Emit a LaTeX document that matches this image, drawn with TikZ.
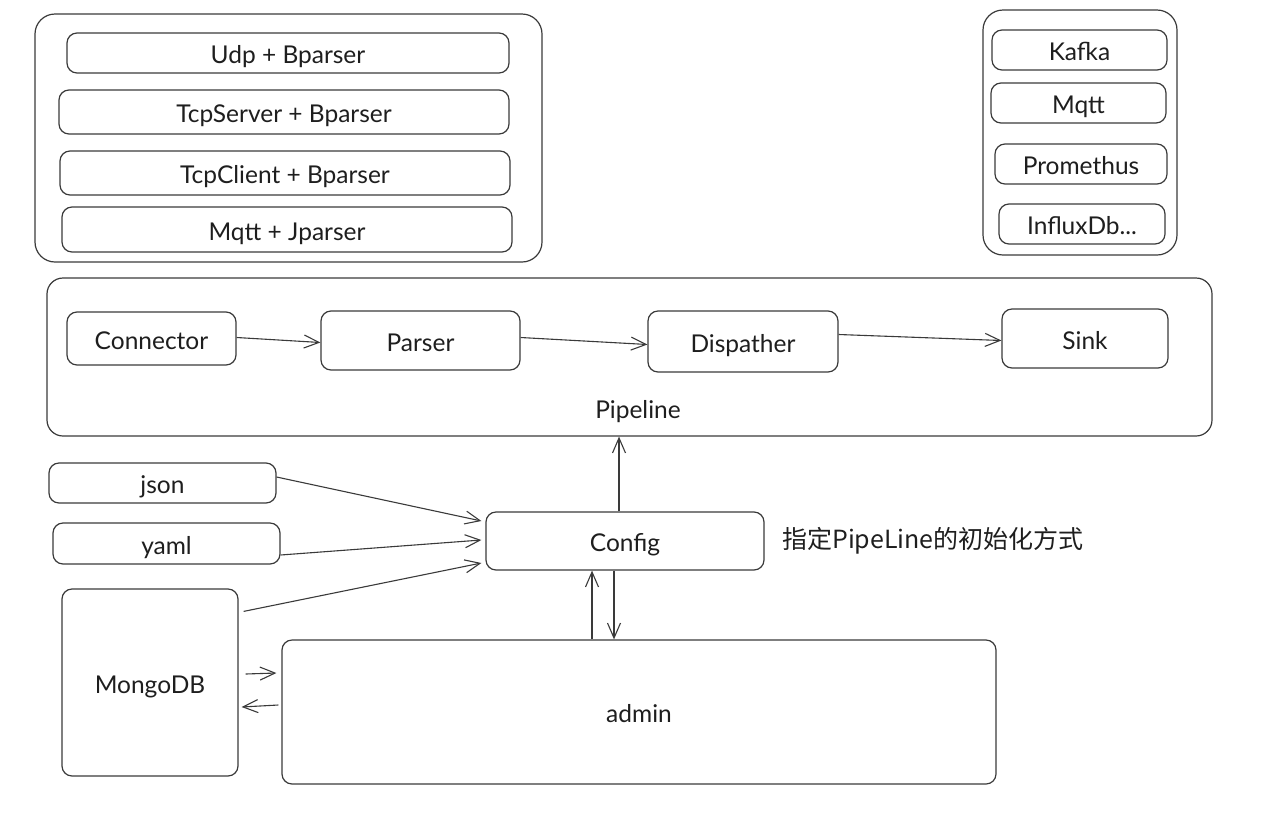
\documentclass[tikz,border=0pt]{standalone}
\usepackage{fontspec}
\setmainfont{Lato}
\newfontfamily\cjk{Noto Sans CJK SC}
\usetikzlibrary{arrows.meta}
\definecolor{linec}{HTML}{3A3A3A}
\definecolor{textc}{HTML}{1E1E1E}
\tikzset{
  box/.style={draw=linec, line width=1.2pt, rounded corners=10pt, text=textc,
    font=\fontsize{24.5}{28}\selectfont, inner sep=0pt, text height=21pt, text depth=0pt},
  bigbox/.style={box, rounded corners=20pt},
  conn/.style={draw=linec, line width=1.1pt, -{Straight Barb[length=15pt,width=13pt,line width=1.1pt]}},
}
\begin{document}
\begin{tikzpicture}[x=1pt,y=-1pt]
\useasboundingbox (0,0) rectangle (1288,812);
% left source group
\node[bigbox, minimum width=507pt, minimum height=248pt] (srcgrp) at (288.5,138) {};
\node[box, minimum width=442pt, minimum height=40pt] (udp) at (288,53) {Udp + Bparser};
\node[box, minimum width=450pt, minimum height=44pt] (tcps) at (284,112) {TcpServer + Bparser};
\node[box, minimum width=450pt, minimum height=44pt] (tcpc) at (285,173) {TcpClient + Bparser};
\node[box, minimum width=450pt, minimum height=45pt] (mqttj) at (287,229.5) {Mqtt + Jparser};
% right sink group
\node[bigbox, minimum width=194pt, minimum height=245pt] (sinkgrp) at (1080,132.5) {};
\node[box, minimum width=175pt, minimum height=40pt] (kafka) at (1079.5,50) {Kafka};
\node[box, minimum width=175pt, minimum height=40pt] (mqtt) at (1078.5,103) {Mqtt};
\node[box, minimum width=172pt, minimum height=40pt] (prom) at (1081,164) {Promethus};
\node[box, minimum width=166pt, minimum height=40pt] (influx) at (1082,224) {InfluxDb...};
% pipeline
\node[box, rounded corners=16pt, minimum width=1165pt, minimum height=158pt] (pipe) at (629.5,357) {};
\node[text=textc, font=\fontsize{24.5}{28}\selectfont, inner sep=0pt, text height=21pt, text depth=0pt] (pipelbl) at (638,408) {Pipeline};
\node[box, minimum width=169pt, minimum height=53pt] (conn) at (151.5,338.5) {Connector};
\node[box, minimum width=199pt, minimum height=59pt] (parser) at (420.5,340.5) {Parser};
\node[box, minimum width=190pt, minimum height=61pt] (disp) at (743,341.5) {Dispather};
\node[box, minimum width=166pt, minimum height=59pt] (sink) at (1085,338.5) {Sink};
\draw[conn] ([yshift=1pt]conn.east) -- ([yshift=-2pt]parser.west);
\draw[conn] ([yshift=3pt]parser.east) -- ([yshift=-3pt]disp.west);
\draw[conn] ([yshift=7pt]disp.east) -- ([yshift=-2pt]sink.west);
% config inputs
\node[box, minimum width=227pt, minimum height=40pt] (json) at (162.5,483) {json};
\node[box, minimum width=227pt, minimum height=41pt] (yaml) at (166.5,543.5) {yaml};
\node[box, minimum width=176pt, minimum height=187pt] (mongo) at (150,682.5) {MongoDB};
\node[box, minimum width=278pt, minimum height=58pt] (config) at (625,541) {Config};
\node[anchor=west, text=textc, font=\cjk\fontsize{25}{29}\selectfont, inner sep=0pt] (note) at (782,541) {指定PipeLine的初始化方式};
\node[box, minimum width=714pt, minimum height=144pt] (admin) at (639,712) {admin};
\draw[conn] ([yshift=6pt]json.east) -- ([xshift=-4pt,yshift=20pt]config.west);
\draw[conn] ([yshift=-11.5pt]yaml.east) -- ([xshift=-4pt,yshift=1pt]config.west);
\draw[conn] ([xshift=5pt,yshift=-23pt]mongo.north east) -- ([xshift=-4pt,yshift=-22pt]config.west);
\draw[conn] ([xshift=-6pt]config.north) -- ([xshift=-10.5pt]pipe.south);
\draw[conn] ([xshift=-47pt]admin.north) -- ([xshift=-33pt]config.south);
\draw[conn] ([xshift=-11pt]config.south) -- ([xshift=-25pt]admin.north);
\draw[conn] ([xshift=7pt,yshift=8.5pt]mongo.east) -- ([xshift=-5pt,yshift=39pt]admin.west);
\draw[conn] ([xshift=-3pt,yshift=7pt]admin.west) -- ([xshift=3pt,yshift=-24.5pt]mongo.east);
\end{tikzpicture}
\end{document}
